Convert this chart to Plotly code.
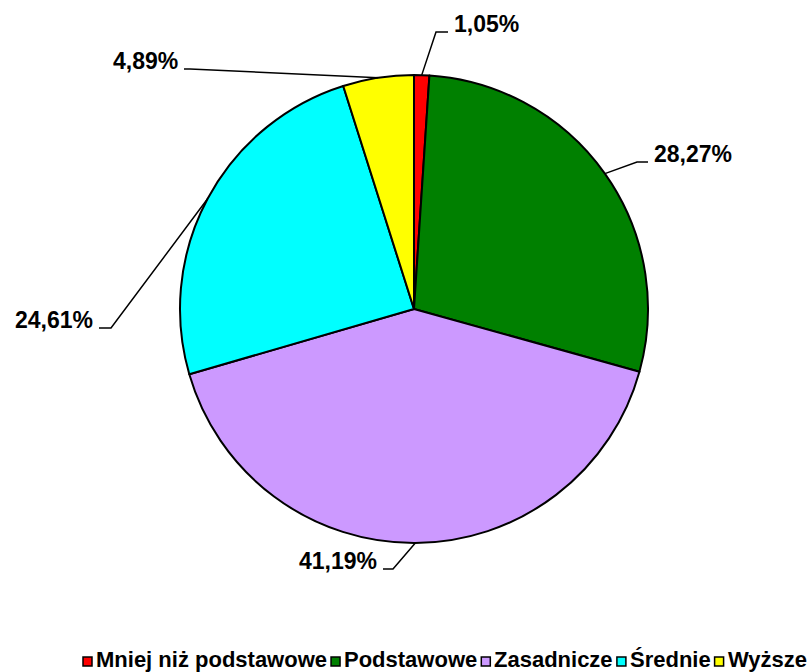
import math
import plotly.graph_objects as go

# ---- data ----
categories = ["Mniej niż podstawowe", "Podstawowe", "Zasadnicze", "Średnie", "Wyższe"]
values = [1.05, 28.27, 41.19, 24.61, 4.89]
colors = ["#FF0000", "#008000", "#CC99FF", "#00FFFF", "#FFFF00"]

W, H = 811, 672
CX, CY, R = 414, 309, 234  # pie centre / radius in px (layout)

FONT = "Liberation Sans, Arial, sans-serif"

def px(x):
    return x / W

def py(y):
    return 1 - y / H

fig = go.Figure()
fig.add_trace(go.Pie(
    labels=categories,
    values=values,
    sort=False,
    direction="clockwise",
    rotation=0,
    marker=dict(colors=colors, line=dict(color="black", width=2)),
    textinfo="none",
    hoverinfo="label+percent",
    showlegend=False,
    domain=dict(x=[px(CX - R), px(CX + R)], y=[py(CY + R), py(CY - R)]),
))

# label layout: elbow point, end of horizontal segment, text side (layout only)
label_layout = [
    dict(elbow=(436, 32), end=(448, 32), side="left"),
    dict(elbow=(637, 162), end=(648, 162), side="left"),
    dict(elbow=(393, 569), end=(383, 569), side="right"),
    dict(elbow=(111, 328), end=(99, 328), side="right"),
    dict(elbow=(190, 69), end=(184, 69), side="right"),
]

total = sum(values)
cum = 0.0
shapes = []
annotations = []
for v, lay in zip(values, label_layout):
    mid = (cum + v / 2) / total * 2 * math.pi
    cum += v
    ax = CX + R * math.sin(mid)
    ay = CY - R * math.cos(mid)
    ex, ey = lay["elbow"]
    hx, hy = lay["end"]
    path = f"M {px(ax)} {py(ay)} L {px(ex)} {py(ey)} L {px(hx)} {py(hy)}"
    shapes.append(dict(type="path", xref="paper", yref="paper", path=path,
                       line=dict(color="black", width=1.5)))
    txt = f"{v:.2f}%".replace(".", ",")
    if lay["side"] == "left":
        tx, xa = hx + 4, "left"
    else:
        tx, xa = hx - 4, "right"
    annotations.append(dict(
        x=px(tx), y=py(hy - 8), xref="paper", yref="paper",
        text=f"<b>{txt}</b>", showarrow=False, xanchor=xa, yanchor="middle",
        font=dict(family=FONT, size=23, color="black"),
    ))

# ---- custom legend (boxes with black border + bold text) ----
# Arial/Liberation Sans Bold advance widths (per 1000 em)
ADV = {"M": 833, "n": 611, "i": 278, "e": 556, "j": 278, " ": 278, "ż": 500,
       "p": 611, "o": 611, "d": 611, "s": 556, "t": 333, "a": 556, "w": 778,
       "P": 667, "Z": 611, "c": 556, "z": 500, "Ś": 667, "r": 389, "W": 944,
       "y": 556}
LEG_SIZE = 22
LEG_Y = 659          # text middle (px)
BOX = 9              # box size (px)
lx = 83
for name, col in zip(categories, colors):
    shapes.append(dict(type="rect", xref="paper", yref="paper",
                       x0=px(lx), x1=px(lx + BOX),
                       y0=py(657 + BOX), y1=py(657),
                       fillcolor=col, line=dict(color="black", width=1.5)))
    tx = lx + BOX + 3
    annotations.append(dict(
        x=px(tx), y=py(LEG_Y), xref="paper", yref="paper",
        text=f"<b>{name}</b>", showarrow=False, xanchor="left", yanchor="middle",
        borderpad=0, font=dict(family=FONT, size=LEG_SIZE, color="black"),
    ))
    tw = sum(ADV.get(ch, 556) for ch in name) / 1000 * LEG_SIZE
    lx = tx + tw + 5

fig.update_layout(
    width=W, height=H,
    margin=dict(l=0, r=0, t=0, b=0, autoexpand=False),
    paper_bgcolor="white",
    plot_bgcolor="white",
    shapes=shapes,
    annotations=annotations,
    showlegend=False,
)

fig.write_html("out.html", config={"displayModeBar": False},
               post_script="document.body.style.margin='0px';")
